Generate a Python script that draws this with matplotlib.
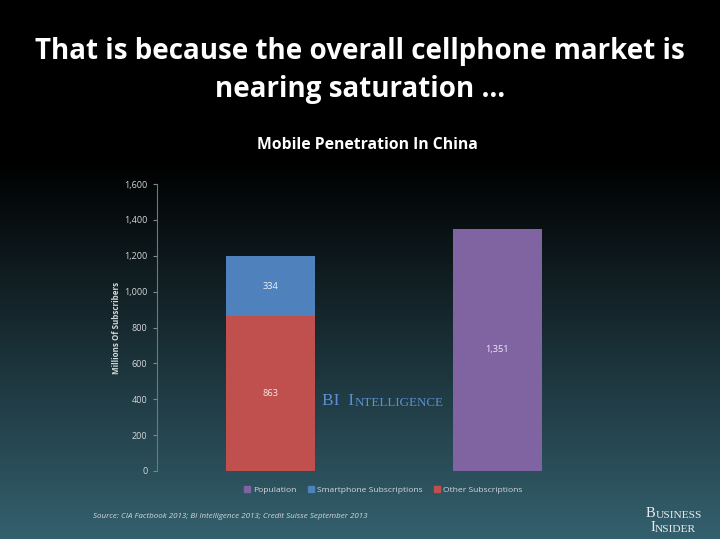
import numpy as np
import matplotlib
matplotlib.use("Agg")
import matplotlib.pyplot as plt
from matplotlib.lines import Line2D

# ---- data ----
categories = ["Subscriptions", "Population"]
other_subs = [863, 0]
smartphone_subs = [334, 0]
population = [0, 1351]
yticks = [0, 200, 400, 600, 800, 1000, 1200, 1400, 1600]
legend_labels = ["Population", "Smartphone Subscriptions", "Other Subscriptions"]

c_blue = "#4f81bd"
c_red = "#c0504d"
c_purple = "#8064a2"
txt = "#d4d8da"

fig = plt.figure(figsize=(7.2, 5.39), dpi=100)

# background gradient
bg = fig.add_axes([0, 0, 1, 1], zorder=-10)
n = 539
yy = np.linspace(0, 1, n)  # 0 top, 1 bottom
start = 0.30
f = np.clip((yy - start) / (1 - start), 0, 1)
top = np.array([0, 0, 0]) / 255
bot = np.array([52, 96, 110]) / 255
img = top[None, :] + f[:, None] * (bot - top)[None, :]
img = np.repeat(img[:, None, :], 4, axis=1)
bg.imshow(img, aspect="auto", extent=[0, 1, 0, 1], interpolation="bilinear")
bg.set_axis_off()

ax = fig.add_axes([157 / 720, 1 - 471 / 539, 454 / 720, 287 / 539])
ax.patch.set_alpha(0)
x = np.arange(len(categories))
w = 0.396
ax.bar(x, other_subs, w, color=c_red, edgecolor="none")
ax.bar(x, smartphone_subs, w, bottom=other_subs, color=c_blue, edgecolor="none")
ax.bar(x, population, w, color=c_purple, edgecolor="none")

# value labels
for i in range(len(categories)):
    if other_subs[i]:
        ax.text(x[i], other_subs[i] / 2, f"{other_subs[i]:,}", ha="center", va="center",
                color="#f0e8e8", fontsize=6.7, family="Open Sans")
    if smartphone_subs[i]:
        ax.text(x[i], other_subs[i] + smartphone_subs[i] / 2, f"{smartphone_subs[i]:,}",
                ha="center", va="center", color="#eef2f8", fontsize=6.7, family="Open Sans")
    if population[i]:
        ax.text(x[i], population[i] / 2, f"{population[i]:,}", ha="center", va="center",
                color="#f0ecf4", fontsize=6.7, family="Open Sans")

ax.set_xlim(-0.5, 1.5)
ax.set_ylim(0, 1600)
ax.set_yticks(yticks)
ax.set_yticklabels([f"{v:,}" for v in yticks], fontsize=6.5, color=txt, family="Open Sans")
ax.tick_params(axis="y", direction="out", length=3, color="#7a8a90", width=0.8, pad=4)
ax.set_xticks([])
for s in ["top", "right", "bottom"]:
    ax.spines[s].set_visible(False)
ax.spines["left"].set_color("#6a7a80")
ax.spines["left"].set_linewidth(0.8)
ax.set_ylabel("Millions Of Subscribers", fontsize=5.8, color=txt, fontweight="bold",
              family="Open Sans", labelpad=2)

# watermark (small caps)
t1 = ax.text(0.227, 368, "BI  I", color="#5b8fd0", fontsize=12.5, family="Liberation Serif",
             ha="left", va="baseline", transform=ax.transData)
ax.annotate("NTELLIGENCE", xy=(1, 0), xycoords=t1, va="bottom", ha="left",
            color="#5b8fd0", fontsize=9.4, family="Liberation Serif")

# titles
fig.text(0.5, 1 - 52 / 539, "That is because the overall cellphone market is", ha="center", va="center",
         color="white", fontsize=20, fontweight="bold", family="Open Sans")
fig.text(0.5, 1 - 89 / 539, "nearing saturation …", ha="center", va="center",
         color="white", fontsize=20, fontweight="bold", family="Open Sans")
fig.text(367 / 720, 1 - 145 / 539, "Mobile Penetration In China", ha="center", va="center",
         color="white", fontsize=11.3, fontweight="bold", family="Open Sans")

# legend
handles = [Line2D([], [], marker="s", linestyle="none", color=c, markersize=4.5)
           for c in [c_purple, c_blue, c_red]]
leg = fig.legend(handles, legend_labels, loc="center", bbox_to_anchor=(383 / 720, 1 - 490 / 539),
                 ncol=3, frameon=False, handletextpad=0.3, columnspacing=1.3,
                 handlelength=0.8, prop={"family": "Open Sans", "size": 6.1})
for t in leg.get_texts():
    t.set_color(txt)

# source
fig.text(93 / 720, 1 - 516 / 539, "Source: CIA Factbook 2013; BI Intelligence 2013; Credit Suisse September 2013",
         ha="left", va="center", color=txt, fontsize=5.75, style="italic", family="Open Sans")

# logo
b1 = fig.text(646 / 720, 1 - 517 / 539, "B", color="#e8ecee", fontsize=10.5, family="Liberation Serif",
              ha="left", va="baseline")
ax.annotate("USINESS", xy=(1, 0), xycoords=b1, va="bottom", ha="left",
            color="#e8ecee", fontsize=8.2, family="Liberation Serif", annotation_clip=False)
i1 = fig.text(650 / 720, 1 - 531 / 539, "I", color="#e8ecee", fontsize=10.5, family="Liberation Serif",
              ha="left", va="baseline")
ax.annotate("NSIDER", xy=(1, 0), xycoords=i1, va="bottom", ha="left",
            color="#e8ecee", fontsize=8.2, family="Liberation Serif", annotation_clip=False)

fig.savefig("out.png", dpi=100)
